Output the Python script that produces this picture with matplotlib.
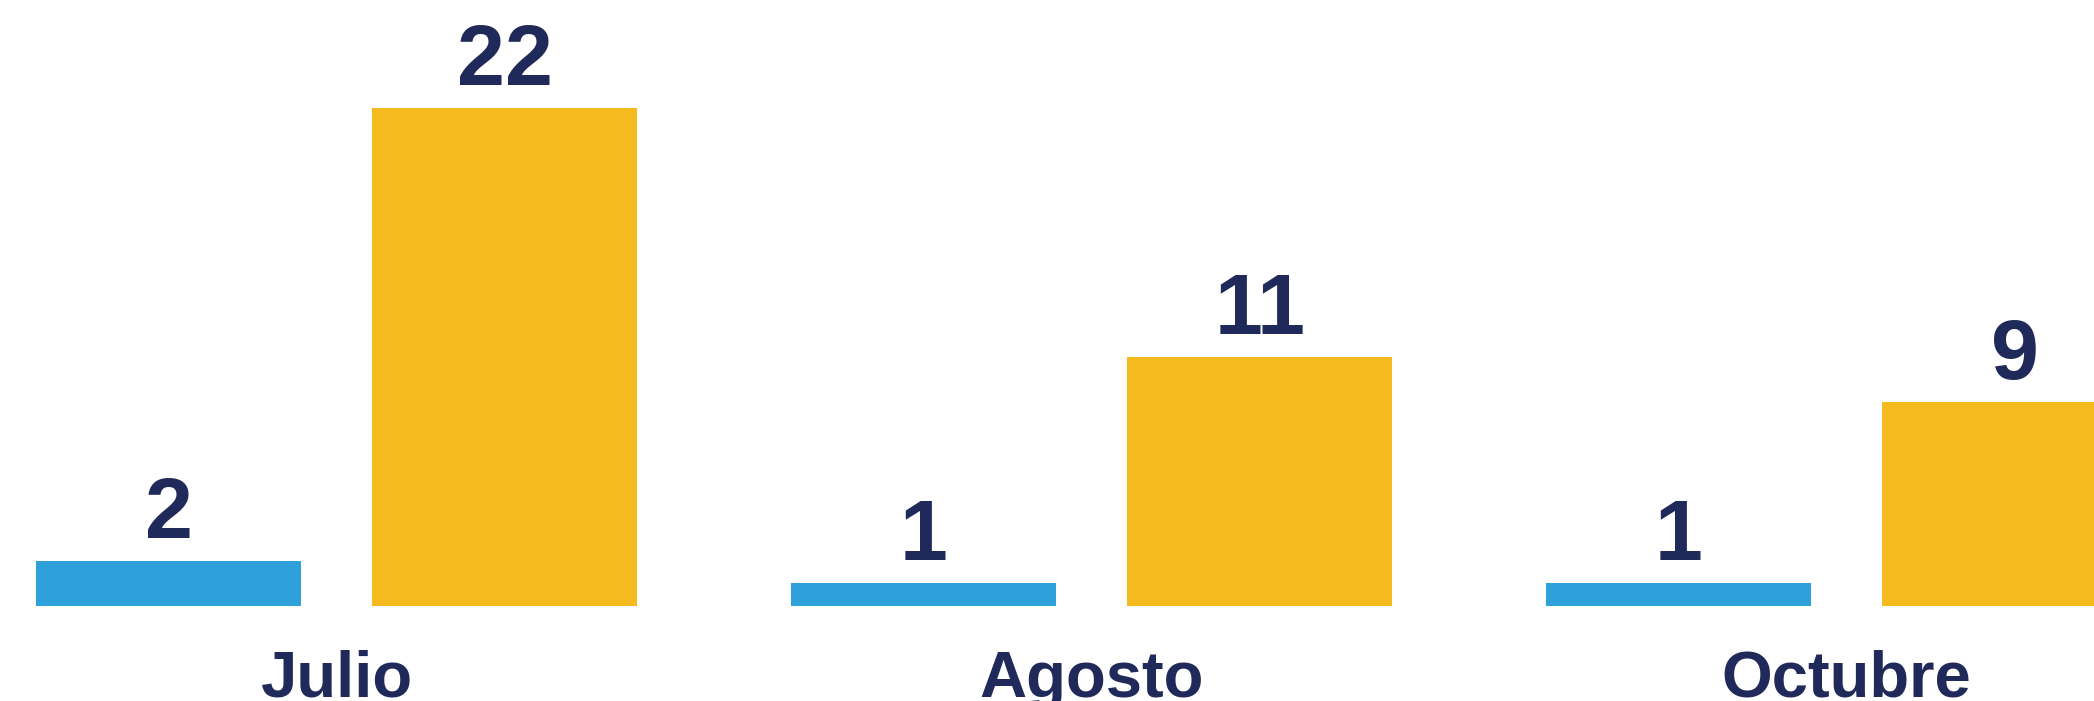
import numpy as np
import matplotlib.pyplot as plt
from matplotlib import font_manager as fm

# data
months = ["Julio", "Agosto", "Octubre"]
serie_azul = [2, 1, 1]
serie_amarilla = [22, 11, 9]

AZUL = "#2EA0DA"
AMARILLO = "#F5BA1D"
NAVY = "#202A5A"

bold_path = fm.findfont(fm.FontProperties(family="Liberation Sans", weight="bold"))

x = np.arange(len(months))
w = 0.351
off = 0.2228

fig = plt.figure(figsize=(20.94, 7.01), dpi=100)
ax = fig.add_axes([0, 0, 1, 1])

b1 = ax.bar(x - off, serie_azul, width=w, color=AZUL)
b2 = ax.bar(x + off, serie_amarilla, width=w, color=AMARILLO)

# value labels above each bar
for bars, vals in ((b1, serie_azul), (b2, serie_amarilla)):
    for rect, v in zip(bars, vals):
        ax.annotate(str(v), (rect.get_x() + rect.get_width() / 2, rect.get_height()),
                    xytext=(0, 16.5), textcoords="offset points",
                    ha="center", va="baseline", color=NAVY,
                    fontproperties=fm.FontProperties(fname=bold_path, size=62))

# month names along the bottom
trans = ax.get_xaxis_transform()
for xi, m in zip(x, months):
    ax.text(xi, 0.006, m, transform=trans, ha="center", va="baseline", color=NAVY,
            fontproperties=fm.FontProperties(fname=bold_path, size=47))

ax.set_xlim(-0.446, 2.3275)
ax.set_ylim(-4.20, 26.75)
ax.axis("off")

fig.savefig("out.png", dpi=100)
